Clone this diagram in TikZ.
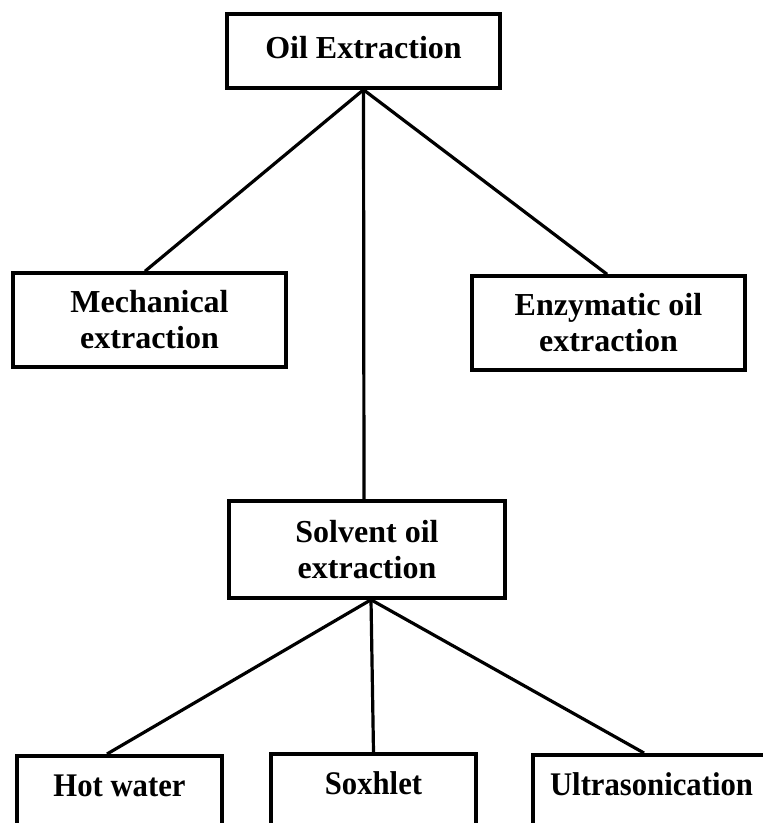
\documentclass[tikz,border=0pt]{standalone}
\usepackage{fontspec}
\setmainfont{Liberation Serif}
\newfontfamily\narrowserif[FakeStretch=0.93]{Liberation Serif}
\begin{document}
\begin{tikzpicture}[x=1pt,y=-1pt,
  box/.style={draw, line width=3.5pt, inner sep=0pt, align=center,
    font=\fontsize{32}{36}\selectfont\bfseries},
  leaf/.style={box, anchor=north, minimum width=205pt, text height=22pt,
    text depth=80pt, inner ysep=19pt,
    font=\narrowserif\fontsize{33}{36}\selectfont\bfseries},
  link/.style={line width=3.2pt}]
\useasboundingbox (0,0) rectangle (763,823);
\clip (0,0) rectangle (763,823);

% main categories
\node[box, minimum width=273pt, minimum height=74pt, text depth=8pt] (oil) at (363.5,51) {Oil Extraction};
\node[box, minimum width=273pt, minimum height=94pt] (mech) at (149.5,320) {Mechanical\\extraction};
\node[box, minimum width=273pt, minimum height=94pt] (enz) at (608.5,323) {Enzymatic oil\\extraction};
\node[box, minimum width=276pt, minimum height=97pt] (solv) at (367,549.5) {Solvent oil\\extraction};

% solvent methods
\node[leaf] (hot) at (119.5,754) {Hot water};
\node[leaf] (sox) at (373.5,752) {Soxhlet};
\node[leaf, minimum width=237pt] (ultra) at (651.5,753) {Ultrasonication};

% connectors
\draw[link] (oil.south) -- ([xshift=-4.5pt]mech.north);
\draw[link] (oil.south) -- ([xshift=-3pt]solv.north);
\draw[link] (oil.south) -- ([xshift=-1.5pt]enz.north);
\draw[link] ([xshift=4pt]solv.south) -- ([xshift=-12.5pt]hot.north);
\draw[link] ([xshift=4pt]solv.south) -- (sox.north);
\draw[link] ([xshift=4pt]solv.south) -- ([xshift=-7.5pt]ultra.north);
\end{tikzpicture}
\end{document}
